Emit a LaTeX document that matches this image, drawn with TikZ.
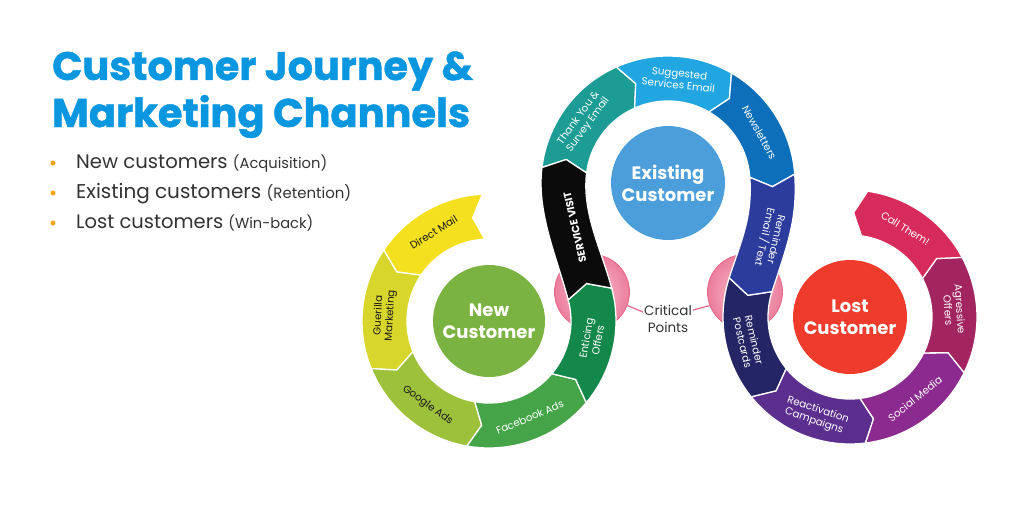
\documentclass[tikz,border=0pt]{standalone}
\usepackage{fontspec}
\setmainfont{Poppins}
\usetikzlibrary{calc}
\definecolor{cdm}{HTML}{F4E01F}
\definecolor{cgm}{HTML}{D8D62B}
\definecolor{cga}{HTML}{9EC13C}
\definecolor{cfb}{HTML}{44A447}
\definecolor{ceo}{HTML}{14874A}
\definecolor{csv}{HTML}{0B0B0B}
\definecolor{cty}{HTML}{1C9C94}
\definecolor{css}{HTML}{22A6E2}
\definecolor{cnl}{HTML}{0D6FBA}
\definecolor{cre}{HTML}{2C3C9C}
\definecolor{crp}{HTML}{242564}
\definecolor{cra}{HTML}{5C2F8F}
\definecolor{csm}{HTML}{8B2A8F}
\definecolor{cao}{HTML}{A2255F}
\definecolor{cct}{HTML}{D72B5B}
\definecolor{cnc}{HTML}{7AB342}
\definecolor{cec}{HTML}{4B9EDA}
\definecolor{clc}{HTML}{EF3B2B}
\definecolor{ctitle}{HTML}{0B97E0}
\definecolor{cbul}{HTML}{F5A31A}
\definecolor{ctxt}{HTML}{333333}
\definecolor{cpinkin}{HTML}{F8C2D0}
\definecolor{cpinkout}{HTML}{EC7E9C}
\definecolor{cpinkline}{HTML}{E46487}
\def\RRo{127}
\def\RRi{82}
\def\RRm{104.5}
\def\Chv{6}
\newcommand\ringseg[5]{%
  \fill[#5, draw=white, line width=1.3pt]
   ($(#1)+(#2:\RRo)$) arc[start angle=#2, end angle=#3, radius=\RRo]
   -- ($(#1)+({#3+#4*\Chv}:\RRm)$) -- ($(#1)+(#3:\RRi)$)
   arc[start angle=#3, end angle=#2, radius=\RRi]
   -- ($(#1)+({#2+#4*\Chv}:\RRm)$) -- cycle;}
\begin{document}
\begin{tikzpicture}[x=1pt,y=1pt,
  lab/.style={font=\fontsize{10.3}{11.8}\selectfont, align=center, inner sep=0pt, text=white},
  labd/.style={lab, text=black!90},
  bigc/.style={circle, inner sep=0pt, text=white, align=center, font=\bfseries\fontsize{18}{22}\selectfont},
  bul/.style={circle, fill=cbul, minimum size=5pt, inner sep=0pt},
  btxt/.style={anchor=base west, inner sep=0pt, text=ctxt},
  pinkc/.style={circle, minimum size=75pt, inner sep=0pt, draw=cpinkline, line width=0.8pt, inner color=cpinkin, outer color=cpinkout},
  pinkl/.style={draw=cpinkline, line width=1.2pt}]
\useasboundingbox (0,0) rectangle (1030,-511);
\fill[white] (0,0) rectangle (1030,-511);

% title
\node[anchor=base west, inner sep=0pt, text=ctitle] (t1) at (52,-80) {\resizebox{421pt}{!}{\bfseries\addfontfeature{FakeBold=1.2}Customer Journey \&}};
\node[anchor=base west, inner sep=0pt, text=ctitle] (t2) at (52,-127) {\resizebox{418pt}{!}{\bfseries\addfontfeature{FakeBold=1.2}Marketing Channels}};

% bullets
\node[bul] (d1) at (53,-163) {};
\node[bul] (d2) at (53,-193) {};
\node[bul] (d3) at (53,-223) {};
\node[btxt] (b1) at (76,-168) {\resizebox{251pt}{!}{\fontsize{18}{20}\selectfont New customers {\fontsize{13.5}{15}\selectfont (Acquisition)}}};
\node[btxt] (b2) at (76,-198) {\resizebox{275pt}{!}{\fontsize{18}{20}\selectfont Existing customers {\fontsize{13.5}{15}\selectfont (Retention)}}};
\node[btxt] (b3) at (76,-228) {\resizebox{237pt}{!}{\fontsize{18}{20}\selectfont Lost customers {\fontsize{13.5}{15}\selectfont (Win-back)}}};

\coordinate (N) at (489,-321);
\coordinate (E) at (668,-183);
\coordinate (L) at (850,-317);

% critical point circles
\node[pinkc] (cpL) at (592,-292) {};
\node[pinkc] (cpR) at (745,-292) {};

% new customer ring (counterclockwise)
\ringseg{N}{93}{146}{1}{cdm}
\ringseg{N}{146}{202}{1}{cgm}
\ringseg{N}{202}{260}{1}{cga}
\ringseg{N}{260}{320}{1}{cfb}
\ringseg{N}{320}{375}{1}{ceo}

% existing customer ring (clockwise)
\ringseg{E}{173}{114}{-1}{cty}
\ringseg{E}{114}{60}{-1}{css}
\ringseg{E}{60}{4}{-1}{cnl}

% lost customer ring (counterclockwise)
\ringseg{L}{162}{219}{1}{crp}
\ringseg{L}{219}{277}{1}{cra}
\ringseg{L}{277}{334}{1}{csm}
\ringseg{L}{334}{388}{1}{cao}
\ringseg{L}{388}{442}{1}{cct}

% service visit band
\fill[csv, draw=white, line width=1.3pt]
  ($(N)+(15:\RRi)$) .. controls ($(N)+(15:\RRi)+(105:45)$) and ($(E)+(173:\RRo)+(263:45)$) .. ($(E)+(173:\RRo)$)
  -- ($(E)+(167:\RRm)$) -- ($(E)+(173:\RRi)$)
  .. controls ($(E)+(173:\RRi)+(263:40)$) and ($(N)+(15:\RRo)+(105:40)$) .. ($(N)+(15:\RRo)$)
  -- ($(N)+(21:\RRm)$) -- cycle;

% reminder email band
\fill[cre, draw=white, line width=1.3pt]
  ($(E)+(4:\RRi)$) .. controls ($(E)+(4:\RRi)+(-86:40)$) and ($(L)+(162:\RRo)+(72:40)$) .. ($(L)+(162:\RRo)$)
  -- ($(L)+(168:\RRm)$) -- ($(L)+(162:\RRi)$)
  .. controls ($(L)+(162:\RRi)+(72:46)$) and ($(E)+(4:\RRo)+(-86:46)$) .. ($(E)+(4:\RRo)$)
  -- ($(E)+(-2:\RRm)$) -- cycle;

% centre circles
\node[bigc, fill=cnc, minimum size=112pt] (nc) at (N) {New\\Customer};
\node[bigc, fill=cec, minimum size=114pt] (ec) at (E) {Existing\\Customer};
\node[bigc, fill=clc, minimum size=114pt] (lc) at (L) {Lost\\Customer};

% labels new ring
\node[labd, rotate=32] (lDM) at ($(N)+(122:\RRm)$) {Direct Mail};
\node[labd, rotate=87] (lGM) at ($(N)+(177:\RRm)$) {Guerilla\\Marketing};
\node[labd, rotate=-36] (lGA) at ($(N)+(234:\RRm)$) {Google Ads};
\node[lab, rotate=23] (lFB) at ($(N)+(293:\RRm)$) {Facebook Ads};
\node[lab, rotate=80] (lEO) at ($(N)+(350:\RRm)$) {Enticing\\Offers};
\node[lab, rotate=103, font=\bfseries\fontsize{10.5}{12}\selectfont] (lSV) at (575,-227) {SERVICE VISIT};

% labels existing ring
\node[lab, rotate=54] (lTY) at ($(E)+(144:\RRm)$) {Thank You \&\\Survey Email};
\node[lab, rotate=-6] (lSS) at ($(E)+(84:\RRm)$) {Suggested\\Services Email};
\node[lab, rotate=-61] (lNL) at ($(E)+(29:\RRm)$) {Newsletters};
\node[lab, rotate=-103] (lRE) at (770,-238) {Reminder\\Email / Text};

% labels lost ring
\node[lab, rotate=-76.5] (lRP) at ($(L)+(193.5:\RRm)$) {Reminder\\Postcards};
\node[lab, rotate=-19] (lRA) at ($(L)+(251:\RRm)$) {Reactivation\\Campaigns};
\node[lab, rotate=38.5] (lSM) at ($(L)+(308.5:\RRm)$) {Social Media};
\node[lab, rotate=-86] (lAO) at ($(L)+(4:\RRm)$) {Agressive\\Offers};
\node[lab, rotate=-32] (lCT) at ($(L)+(58:\RRm)$) {Call Them!};

% critical points
\node[align=center, inner sep=1pt, text=ctxt, font=\fontsize{13.5}{17}\selectfont] (cpt) at (668,-319) {Critical\\Points};
\draw[pinkl] (cpL.-21) -- ([yshift=7pt]cpt.west);
\draw[pinkl] ([yshift=9pt]cpt.east) -- (cpR.201);
\end{tikzpicture}
\end{document}
